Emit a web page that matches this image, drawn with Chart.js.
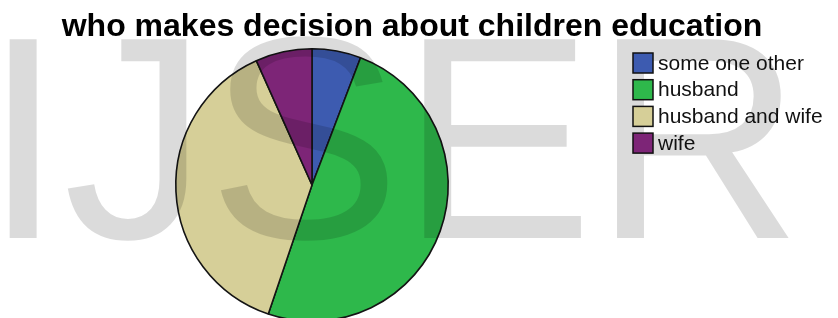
<!DOCTYPE html>
<html>
<head>
<meta charset="utf-8">
<script src="https://cdn.jsdelivr.net/npm/chart.js@4/dist/chart.umd.min.js"></script>
<style>
  html, body { margin: 0; padding: 0; background: #fff; overflow: hidden; }
  #wrap { width: 838px; height: 400px; }
</style>
</head>
<body>
<div id="wrap"><canvas id="pie" width="838" height="400"></canvas></div>
<script>
const chartTitle = 'who makes decision about children education';
const categories = ['some one other', 'husband', 'husband and wife', 'wife'];
const percents = [5.8, 49.4, 38.1, 6.7];
const sliceColors = ['#3d5bb0', '#2eb84b', '#d6cf98', '#7d2577'];
const watermark = 'IJSER';

// title, watermark and legend are painted on top of the pie
const overlay = {
    id: 'overlay',
    afterDraw(chart) {
        const ctx = chart.ctx;
        ctx.save();

        // big grey watermark, see-through over the pie
        ctx.fillStyle = 'rgba(0,0,0,0.14)';
        ctx.font = '289px "Liberation Sans", Arial, sans-serif';
        ctx.textBaseline = 'alphabetic';
        ctx.textAlign = 'left';
        ctx.fillText(watermark, -17, 238);

        ctx.fillStyle = '#000';
        ctx.font = 'bold 32px "Liberation Sans", Arial, sans-serif';
        ctx.textAlign = 'center';
        ctx.fillText(chartTitle, 412, 36);

        ctx.font = '21px "Liberation Sans", Arial, sans-serif';
        ctx.textAlign = 'left';
        ctx.textBaseline = 'middle';
        chart.data.labels.forEach(function(lbl, i){
            var y = 53 + i * 26.7;
            ctx.fillStyle = chart.data.datasets[0].backgroundColor[i];
            ctx.fillRect(633, y, 20, 20);
            ctx.strokeStyle = '#111';
            ctx.lineWidth = 1.5;
            ctx.strokeRect(633, y, 20, 20);
            ctx.fillStyle = '#111';
            ctx.fillText(lbl, 658, y + 11);
        });
        ctx.restore();
    }
};

new Chart(document.getElementById('pie'), {
    type: 'pie',
    data: {
        labels: categories,
        datasets: [{
            data: percents,
            backgroundColor: sliceColors,
            borderColor: '#141414',
            borderWidth: 1.6
        }]
    },
    options: {
        responsive: false,
        animation: false,
        layout: {
            padding: { left: 175, right: 389, top: 48, bottom: 78 }
        },
        plugins: {
            legend: { display: false },
            title: { display: false },
            tooltip: { enabled: false }
        }
    },
    plugins: [overlay]
});
</script>
</body>
</html>
